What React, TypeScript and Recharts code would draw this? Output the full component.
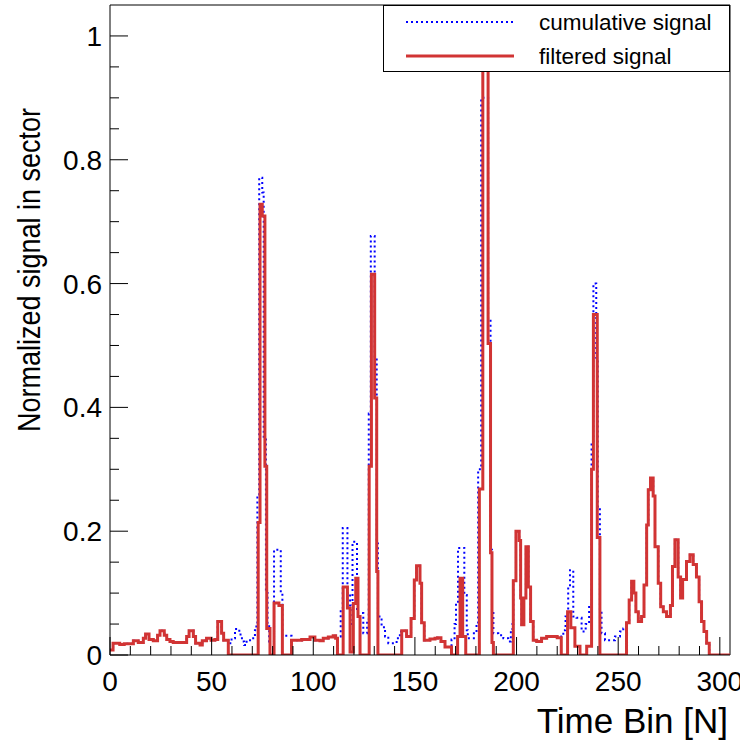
import React from 'react';
import { ComposedChart, Line, XAxis, YAxis, ReferenceLine } from 'recharts';

// Filtered signal: step histogram, left edge of each step and its value
const filteredBinStart = [
  0, 1.5, 4.8, 7, 11.5, 13.9, 16.4, 17.5, 19.2, 21.3, 23.4, 24.6, 26.7, 27.9, 29.5, 31.1, 37.7, 38.9, 41, 42.1, 44.3, 45.4, 47.5, 49.7, 51.6, 53, 54.9, 55.9, 58.2,
  72.9, 73.8, 74.9, 76.2, 77.1, 78.7, 80.7, 83.1, 84.8,
  89.3, 94.3, 98.4, 100.8, 103.3, 104.9, 107.4, 109.8, 111, 111.9,
  114.7, 116.8, 118.1, 119.7, 120.9, 122, 123,
  127.5, 128.6, 130.2, 131.2, 131.8,
  143.5, 145.9, 148.1, 149.7, 150.8, 152.5, 153.3, 154.6, 157.4, 159.9, 161.1, 162.8, 164.8, 168,
  171, 172.2, 173.5, 175,
  181.7, 183.4, 186.0, 187.2, 187.9, 188.6,
  198.4, 199.7, 201.3, 202, 202.5, 203.6, 204.6, 205.8, 206.9, 208.2, 209.9, 212.3, 214.8, 220, 222,
  225.1, 226.7, 228.7, 231.2, 234.5,
  236.9, 237.8, 239.7, 241,
  254.1, 255.4, 256.6, 257.7, 258.7, 259.9, 261.5, 262.7, 264, 264.8, 265.9, 267.2, 268.1, 269.7, 270.9, 272.2, 273.8, 275.7, 276.7, 277.9, 279.5, 280.7, 281.7, 283.6, 285.3, 286.9, 288.5, 289.8, 291, 292.2, 293.5, 294.8, 305,
];
const filteredValue = [
  0.008, 0.019, 0.017, 0.018, 0.023, 0.02, 0.027, 0.034, 0.025, 0.023, 0.032, 0.039, 0.032, 0.025, 0.022, 0.02, 0.03, 0.039, 0.03, 0.019, 0.016, 0.023, 0.027, 0.024, 0.025, 0.054, 0.035, 0.024, 0,
  0.214, 0.728, 0.709, 0.305, 0.043, 0, 0.084, 0.08, 0,
  0.024, 0.025, 0.029, 0.024, 0.023, 0.027, 0.029, 0.031, 0.027, 0,
  0.11, 0.076, 0.005, 0.083, 0.124, 0.062, 0,
  0.305, 0.615, 0.415, 0.135, 0,
  0.039, 0.03, 0.059, 0.121, 0.144, 0.116, 0.052, 0.024, 0.026, 0.027, 0.028, 0.022, 0.013, 0,
  0.03, 0.124, 0.03, 0,
  0.268, 1.0, 0.503, 0.165, 0.02, 0,
  0.12, 0.2, 0.185, 0.092, 0.049, 0.092, 0.175, 0.11, 0.054, 0.024, 0.022, 0.027, 0.03, 0.028, 0,
  0.07, 0.044, 0.014, 0, 0.014,
  0.3, 0.55, 0.19, 0,
  0.052, 0.089, 0.119, 0.1, 0.07, 0.054, 0.062, 0.113, 0.21, 0.267, 0.286, 0.257, 0.175, 0.116, 0.078, 0.07, 0.062, 0.08, 0.143, 0.186, 0.126, 0.092, 0.122, 0.151, 0.162, 0.146, 0.126, 0.086, 0.054, 0.038, 0.019, 0, 0,
];

// Cumulative signal: step histogram
const cumulativeBinStart = [
  0, 1.5, 4.8, 7, 11.5, 13.9, 16.4, 17.5, 19.2, 21.3, 23.4, 24.6, 26.7, 27.9, 29.5, 31.1, 37.7, 38.9, 41, 42.1, 44.3, 45.4, 47.5, 49.7, 51.6, 53, 54.9, 55.9,
  58.2, 59.8, 61.5, 63.6, 64.9, 66, 67.2, 68.9, 71.3, 72,
  72.5, 73.4, 74.9, 75.6, 76.7, 77.5, 78.3, 80.7, 84, 84.8,
  89.3, 94.3, 98.4, 100.8, 103.3, 104.9, 107.4, 109.8, 111,
  111.9, 113.5, 114.5, 116.8, 118.1, 119.3, 121.5, 124.6, 126.5,
  127.3, 128.3, 130.2, 131.2, 131.8, 133.6, 135.3, 136.9, 141, 142.6,
  143.5, 145.9, 148.1, 149.7, 150.8, 152.5, 153.3, 154.6, 157.4, 159.9, 161.1, 162.8, 164.8,
  168, 169.5, 170.2, 171.2, 174.3, 175.5, 176, 179, 180.3,
  181.1, 182.6, 186.0, 187.2, 187.9, 188.6, 191, 193.5, 195.9, 197.2, 198,
  198.4, 199.7, 201.3, 202, 202.5, 203.6, 204.6, 205.8, 206.9, 208.2, 209.9, 212.3, 214.8, 220,
  222, 223, 224.1, 225.4, 226.3, 227.9, 229.5, 232, 234, 235.7,
  236.9, 237.8, 239.2, 239.9, 241, 241.8, 243.5, 248.4, 250.9, 252.5,
  254.1, 255.4, 256.6, 257.7, 258.7, 259.9, 261.5, 262.7, 264, 264.8, 265.9, 267.2, 268.1, 269.7, 270.9, 272.2, 273.8, 275.7, 276.7, 277.9, 279.5, 280.7, 281.7, 283.6, 285.3, 286.9, 288.5, 289.8, 291, 292.2, 293.5, 294.8, 305,
];
const cumulativeValue = [
  0.008, 0.019, 0.017, 0.018, 0.023, 0.02, 0.027, 0.034, 0.025, 0.023, 0.032, 0.039, 0.032, 0.025, 0.022, 0.02, 0.03, 0.039, 0.03, 0.019, 0.016, 0.023, 0.027, 0.024, 0.025, 0.054, 0.035, 0.024,
  0.019, 0.027, 0.042, 0.033, 0.022, 0.016, 0.024, 0.027, 0.04, 0.05,
  0.259, 0.771, 0.747, 0.348, 0.1, 0.05, 0.022, 0.17, 0.1, 0.031,
  0.024, 0.025, 0.029, 0.024, 0.023, 0.027, 0.029, 0.031, 0.027,
  0.03, 0.075, 0.205, 0.1, 0.05, 0.183, 0.068, 0.035, 0.057,
  0.39, 0.677, 0.48, 0.18, 0.062, 0.045, 0.03, 0.019, 0.027, 0.038,
  0.039, 0.03, 0.059, 0.121, 0.144, 0.116, 0.052, 0.024, 0.026, 0.027, 0.028, 0.022, 0.013,
  0.025, 0.05, 0.086, 0.173, 0.097, 0.04, 0.027, 0.035, 0.05,
  0.3, 0.9, 0.54, 0.17, 0.07, 0.035, 0.032, 0.027, 0.022, 0.04, 0.05,
  0.12, 0.2, 0.185, 0.092, 0.049, 0.092, 0.175, 0.11, 0.054, 0.024, 0.022, 0.027, 0.03, 0.028,
  0.03, 0.04, 0.062, 0.11, 0.137, 0.062, 0.06, 0.038, 0.05, 0.08,
  0.34, 0.6, 0.48, 0.24, 0.07, 0.035, 0.024, 0.03, 0.038, 0.043,
  0.052, 0.089, 0.119, 0.1, 0.07, 0.054, 0.062, 0.113, 0.21, 0.267, 0.286, 0.257, 0.175, 0.116, 0.078, 0.07, 0.062, 0.08, 0.143, 0.186, 0.126, 0.092, 0.122, 0.151, 0.162, 0.146, 0.126, 0.086, 0.054, 0.038, 0.019, 0, 0,
];

const xTicks = [0, 10, 20, 30, 40, 50, 60, 70, 80, 90, 100, 110, 120, 130, 140, 150, 160, 170, 180, 190, 200, 210, 220, 230, 240, 250, 260, 270, 280, 290, 300];
const xMajorTicks = [0, 50, 100, 150, 200, 250, 300];
const yTicks = [0, 0.05, 0.1, 0.15, 0.2, 0.25, 0.3, 0.35, 0.4, 0.45, 0.5, 0.55, 0.6, 0.65, 0.7, 0.75, 0.8, 0.85, 0.9, 0.95, 1.0];
const yMajorTicks = [0, 0.2, 0.4, 0.6, 0.8, 1.0];
const yMajorLabels = ['0', '0.2', '0.4', '0.6', '0.8', '1'];

const seriesNames = ['cumulative signal', 'filtered signal'];
const xTitle = 'Time Bin [N]';
const yTitle = 'Normalized signal in sector';

const zip = (xs: number[], ys: number[]) => {
  const n = Math.min(xs.length, ys.length);
  const out: { x: number; y: number }[] = [];
  for (let i = 0; i < n; i++) out.push({ x: xs[i], y: ys[i] });
  return out;
};

const filteredData = zip(filteredBinStart, filteredValue);
const cumulativeData = zip(cumulativeBinStart, cumulativeValue);

const FONT = "'Liberation Sans', Arial, Helvetica, sans-serif";
const RED = '#d13434';
const BLUE = '#0000ff';
const PLOT_LEFT = 110;
const PLOT_BOTTOM = 655;

const XTick = (props: any) => {
  const { x, payload } = props;
  const v = payload.value as number;
  const major = xMajorTicks.indexOf(v) >= 0;
  return (
    <g>
      <line x1={x} x2={x} y1={PLOT_BOTTOM} y2={PLOT_BOTTOM - (major ? 18 : 9)} stroke="#000" strokeWidth={1} />
      {major && (
        <text x={x} y={691} textAnchor="middle" fontSize={28} fontFamily={FONT} fill="#000">
          {String(v)}
        </text>
      )}
    </g>
  );
};

const YTick = (props: any) => {
  const { y, payload } = props;
  const v = payload.value as number;
  let idx = -1;
  yMajorTicks.forEach((m, i) => {
    if (Math.abs(m - v) < 1e-6) idx = i;
  });
  const major = idx >= 0;
  return (
    <g>
      <line x1={PLOT_LEFT} x2={PLOT_LEFT + (major ? 18 : 9)} y1={y} y2={y} stroke="#000" strokeWidth={1} />
      {major && (
        <text x={102} y={y + 10} textAnchor="end" fontSize={28} fontFamily={FONT} fill="#000">
          {yMajorLabels[idx]}
        </text>
      )}
    </g>
  );
};

export default function App() {
  return (
    <div style={{ position: 'absolute', left: 0, top: 0, width: 740, height: 743, background: '#fff' }}>
      <ComposedChart width={740} height={743} margin={{ top: 5, right: 10, bottom: 0, left: 0 }}>
        <XAxis
          type="number"
          dataKey="x"
          domain={[0, 305]}
          ticks={xTicks}
          interval={0}
          allowDataOverflow
          height={88}
          tickLine={false}
          axisLine={{ stroke: '#000', strokeWidth: 1 }}
          tick={<XTick />}
        />
        <YAxis
          type="number"
          dataKey="y"
          domain={[0, 1.05]}
          ticks={yTicks}
          interval={0}
          allowDataOverflow
          width={110}
          tickLine={false}
          axisLine={{ stroke: '#000', strokeWidth: 1 }}
          tick={<YTick />}
        />
        <ReferenceLine y={1.05} stroke="#000" strokeWidth={1} />
        <ReferenceLine x={305} stroke="#000" strokeWidth={1} />
        <Line
          data={cumulativeData}
          dataKey="y"
          type="stepAfter"
          stroke={BLUE}
          strokeWidth={2}
          strokeDasharray="2 3"
          dot={false}
          activeDot={false}
          isAnimationActive={false}
          name={seriesNames[0]}
        />
        <Line
          data={filteredData}
          dataKey="y"
          type="stepAfter"
          stroke={RED}
          strokeWidth={3}
          strokeLinejoin="miter"
          dot={false}
          activeDot={false}
          isAnimationActive={false}
          name={seriesNames[1]}
        />
      </ComposedChart>
      <svg
        width={740}
        height={743}
        style={{ position: 'absolute', left: 0, top: 0, pointerEvents: 'none' }}
      >
        <text
          x={40}
          y={108}
          transform="rotate(-90, 40, 108)"
          textAnchor="end"
          fontSize={31}
          textLength={324}
          lengthAdjust="spacingAndGlyphs"
          fontFamily={FONT}
          fill="#000"
        >
          {yTitle}
        </text>
        <text x={728} y={733} textAnchor="end" fontSize={35} fontFamily={FONT} fill="#000">
          {xTitle}
        </text>
        <rect x={383.5} y={5.5} width={346} height={66} fill="#fff" stroke="#000" strokeWidth={1} />
        <line x1={406} x2={514} y1={22} y2={22} stroke={BLUE} strokeWidth={2} strokeDasharray="2 3" />
        <text x={539} y={30} fontSize={22.5} fontFamily={FONT} fill="#000">
          {seriesNames[0]}
        </text>
        <line x1={406} x2={514} y1={56} y2={56} stroke={RED} strokeWidth={3} />
        <text x={539} y={64} fontSize={22.5} fontFamily={FONT} fill="#000">
          {seriesNames[1]}
        </text>
      </svg>
    </div>
  );
}
